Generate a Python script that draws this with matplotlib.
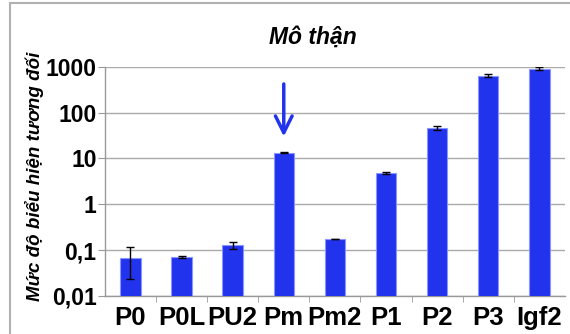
import matplotlib
matplotlib.use("Agg")
import matplotlib.pyplot as plt
from matplotlib.patches import Rectangle

plt.rcParams['font.family'] = ['Liberation Sans', 'DejaVu Sans']

labels = ['P0', 'P0L', 'PU2', 'Pm', 'Pm2', 'P1', 'P2', 'P3', 'Igf2']
values = [0.069, 0.070, 0.13, 13.3, 0.175, 4.8, 46, 640, 900]
errors = [0.046, 0.004, 0.022, 0.3, 0.003, 0.3, 5, 45, 70]
yticks = [0.01, 0.1, 1, 10, 100, 1000]
yticklabels = ['0,01', '0,1', '1', '10', '100', '1000']

fig = plt.figure(figsize=(5.7, 3.34), dpi=100)
ax = fig.add_axes([0.184, 0.1138, 0.807, 0.6865])

x = list(range(len(labels)))
ax.bar(x, values, width=0.4, color='#2233EE', edgecolor='#8A96FF', linewidth=0.8,
       zorder=3)
ax.errorbar(x, values, yerr=errors, fmt='none', ecolor='black', elinewidth=1,
            capsize=3, capthick=1, zorder=4)

ax.set_yscale('log')
ax.set_ylim(0.01, 1000)
ax.set_xlim(-0.5, len(labels) - 0.5)
ax.set_yticks(yticks)
ax.set_yticklabels(yticklabels, fontsize=16.5, fontweight='bold')
ax.minorticks_off()
ax.set_xticks(x)
ax.set_xticklabels(labels, fontsize=18.5, fontweight='bold')
ax.set_xticks([i + 0.5 for i in x[:-1]], minor=True)
ax.tick_params(axis='x', which='major', length=0, pad=7)
ax.tick_params(axis='x', which='minor', length=4, color='#999999', direction='out')
ax.tick_params(axis='y', length=5, color='#999999', pad=1)
ax.yaxis.grid(True, color='#aaaaaa', linewidth=1)
ax.set_axisbelow(True)
for s in ['top', 'right']:
    ax.spines[s].set_visible(False)
for s in ['left', 'bottom']:
    ax.spines[s].set_color('#999999')
    ax.spines[s].set_linewidth(1)

# arrow pointing to Pm
ax.annotate('', xy=(3, 30), xytext=(3, 420),
            arrowprops=dict(arrowstyle='->', color='#2233EE', lw=2.5,
                            mutation_scale=30, shrinkA=0, shrinkB=0))

fig.text(0.549, 0.889, 'Mô thận', fontsize=16.5, fontweight='bold',
         fontstyle='italic', ha='center', va='center')
fig.text(0.06, 0.473, 'Mức độ biểu hiện tương đối', fontsize=13.5,
         fontweight='bold', fontstyle='italic', rotation=90,
         ha='center', va='center')

# outer frame of the chart
fig.patches.append(Rectangle((10 / 570, -0.05), 1.1, 1.041,
                             transform=fig.transFigure, fill=False,
                             edgecolor='#b0b0b0', linewidth=1.5))

fig.savefig('out.png', dpi=100)
